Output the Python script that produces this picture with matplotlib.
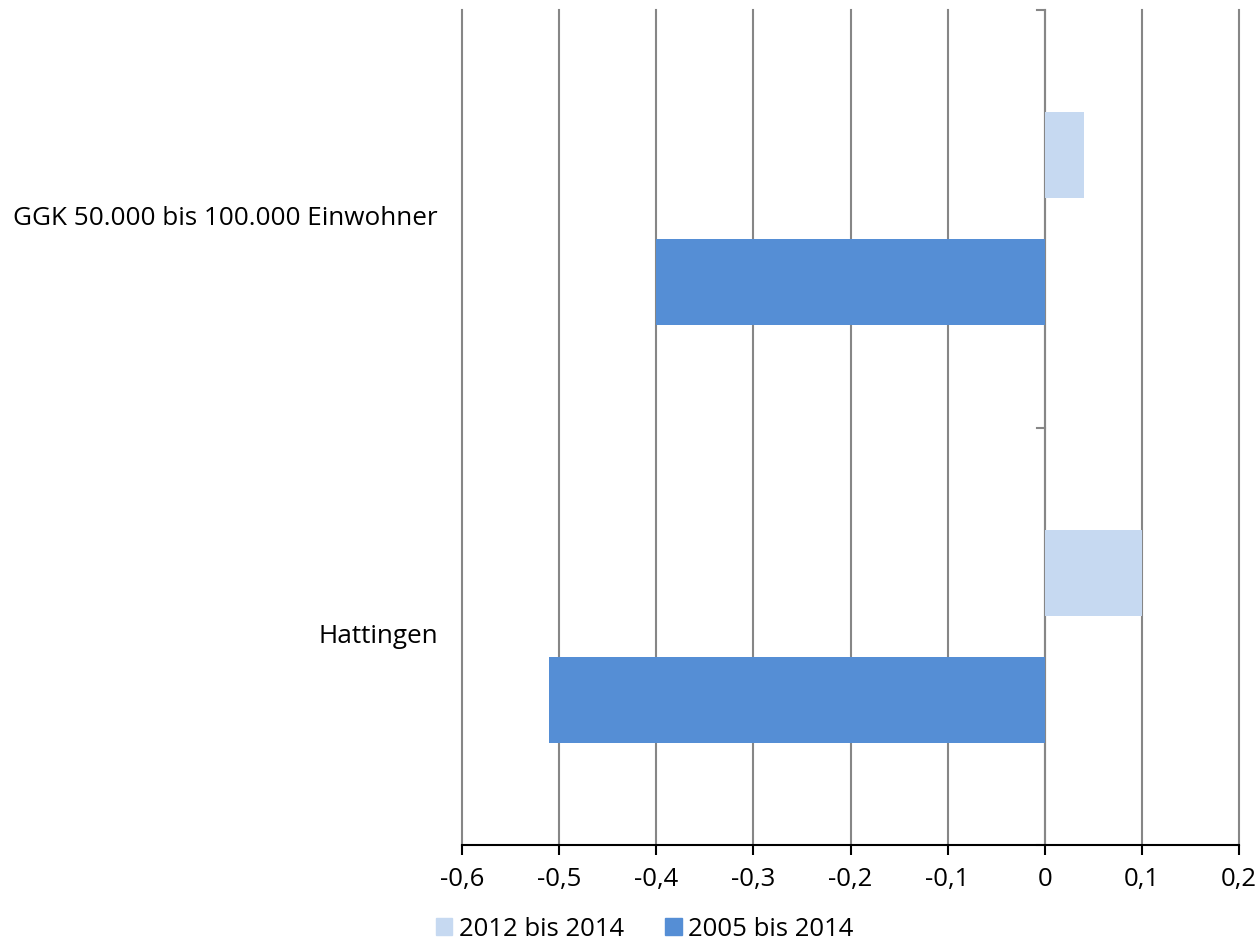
import matplotlib.pyplot as plt
from matplotlib.patches import Patch

categories = ['Hattingen', 'GGK 50.000 bis 100.000 Einwohner']
series_names = ['2012 bis 2014', '2005 bis 2014']
values_2012 = [0.10, 0.04]
values_2005 = [-0.51, -0.40]
colors = ['#C6D9F1', '#558ED5']
x_ticks = [-0.6, -0.5, -0.4, -0.3, -0.2, -0.1, 0, 0.1, 0.2]
x_labels = ['-0,6', '-0,5', '-0,4', '-0,3', '-0,2', '-0,1', '0', '0,1', '0,2']

plt.rcParams['font.family'] = ['Open Sans', 'DejaVu Sans']

fig = plt.figure(figsize=(12.59, 9.44), dpi=100)
ax = fig.add_axes([462 / 1259, 99 / 944, 777 / 1259, 835 / 944])

pos = list(range(len(categories)))
bar_h = 0.206
ax.barh([p + 0.152 for p in pos], values_2012, height=bar_h, color=colors[0], zorder=3)
ax.barh([p - 0.152 for p in pos], values_2005, height=bar_h, color=colors[1], zorder=3)

ax.set_xlim(-0.6, 0.2)
ax.set_ylim(-0.5, 1.5)
ax.set_xticks(x_ticks)
ax.set_xticklabels(x_labels, fontsize=18.5)
ax.tick_params(axis='x', length=7, width=1.5, color='black', pad=9)
ax.grid(axis='x', color='#868686', linewidth=1.5, zorder=1)
for gl in ax.get_xgridlines():
    gl.set_clip_on(False)

# category axis sits at x=0
ax.set_yticks([])
for s in ['top', 'right', 'left']:
    ax.spines[s].set_visible(False)
ax.spines['bottom'].set_color('black')
ax.spines['bottom'].set_linewidth(1.5)
ax.spines['bottom'].set_zorder(4)
ax.axvline(0, color='#868686', linewidth=1.5, zorder=2)
for yb in [-0.5, 0.5, 1.5]:
    ax.plot([-0.008, 0], [yb, yb], color='#868686', linewidth=1.5, zorder=2, clip_on=False)

for p, name in zip(pos, categories):
    ax.text(-0.6 - 0.025, p, name, ha='right', va='center', fontsize=18.8)

handles = [Patch(color=c) for c in colors]
fig.legend(handles, series_names, loc='lower center', bbox_to_anchor=(0.512, -0.022),
           ncol=2, frameon=False, fontsize=18.5, handlelength=0.65, handleheight=0.65,
           handletextpad=0.25, columnspacing=1.6)

fig.savefig('out.png', dpi=100)
